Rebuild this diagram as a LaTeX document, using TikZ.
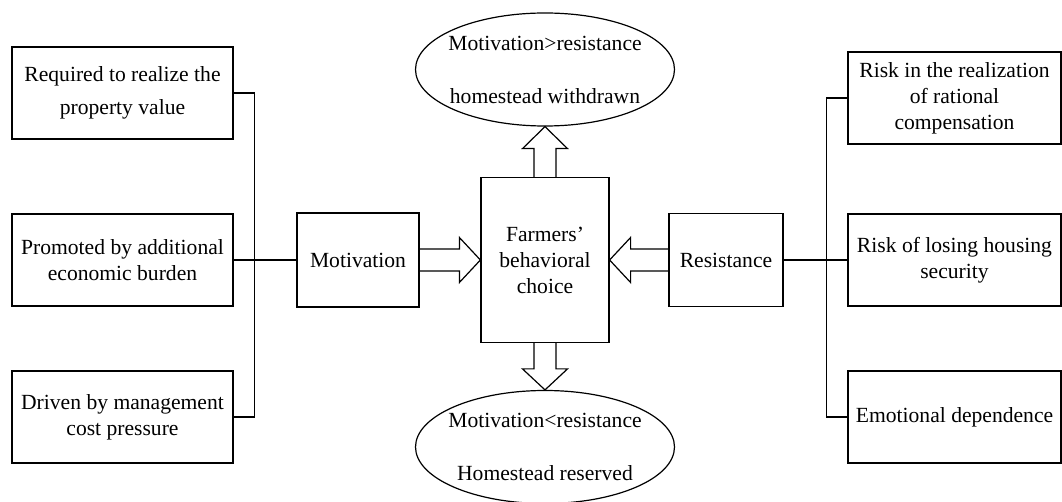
\documentclass[tikz,border=0pt]{standalone}
\usepackage{fontspec}
\setmainfont{Liberation Serif}
\usepackage{tikz}
\usetikzlibrary{calc, shapes.geometric}
\tikzset{
    factor/.style={draw, align=center, minimum width=110.5pt, minimum height=46pt, inner sep=1pt},
    force/.style={draw, align=center, minimum height=47pt, inner sep=1pt},
    outcome/.style={draw, ellipse, minimum width=129.5pt, minimum height=56.5pt, inner sep=0pt},
    outtext/.style={align=center, inner sep=0pt}
}

\begin{document}
\begin{tikzpicture}[x=0.5pt, y=-0.5pt, line width=0.6pt, font=\fontsize{10.8}{13}\selectfont]
        \useasboundingbox (0,0) rectangle (1062,502);

        % motivation side
        \node[factor] (req) at (122.5,93) {Required to realize the\\[3.5pt]property value};
        \node[factor] (prom) at (122.5,260) {Promoted by additional\\economic burden};
        \node[factor] (driv) at (122.5,417) {Driven by management\\cost pressure};
        \node[force, minimum width=61pt] (motiv) at (358,260) {Motivation};

        % resistance side
        \node[factor, minimum width=106.5pt] (rat) at (954.5,98) {Risk in the realization\\of rational\\compensation};
        \node[factor, minimum width=106.5pt] (hous) at (954.5,260) {Risk of losing housing\\security};
        \node[factor, minimum width=106.5pt] (emo) at (954.5,417) {Emotional dependence};
        \node[force, minimum width=57pt, minimum height=46.5pt] (resist) at (726,260) {Resistance};

        % choice and outcomes
        \node[draw, align=center, minimum width=64pt, minimum height=82.5pt] (choice) at (545,260) {Farmers'\\behavioral\\choice};
        \node[outcome] (up) at (545,69.5) {};
        \node[outtext] (uptext) at (up) {Motivation>resistance\\[13.5pt]homestead withdrawn};
        \node[outcome] (down) at (545,447) {};
        \node[outtext] (downtext) at (down) {Motivation<resistance\\[13.5pt]Homestead reserved};

        \draw (req.east) -- ++(21,0) |- (driv.east);
        \draw (prom.east) -- (motiv.west);
        \draw (rat.west) -- ++(-21,0) |- (emo.west);
        \draw (hous.west) -- (resist.east);

        % hollow arrows
        \draw ($(motiv.east)+(0,-11)$) -- ($(choice.west)+(-21,-11)$) -- ($(choice.west)+(-21,-22.5)$) -- (choice.west)
            -- ($(choice.west)+(-21,22.5)$) -- ($(choice.west)+(-21,11)$) -- ($(motiv.east)+(0,11)$);
        \draw ($(resist.west)+(0,-11)$) -- ($(choice.east)+(21,-11)$) -- ($(choice.east)+(21,-22.5)$) -- (choice.east)
            -- ($(choice.east)+(21,22.5)$) -- ($(choice.east)+(21,11)$) -- ($(resist.west)+(0,11)$);
        \draw ($(choice.north)+(-11,0)$) -- ($(up.south)+(-11,22)$) -- ($(up.south)+(-22.5,22)$) -- (up.south)
            -- ($(up.south)+(22.5,22)$) -- ($(up.south)+(11,22)$) -- ($(choice.north)+(11,0)$);
        \draw ($(choice.south)+(-11,0)$) -- ($(down.north)+(-11,-21)$) -- ($(down.north)+(-22.5,-21)$) -- (down.north)
            -- ($(down.north)+(22.5,-21)$) -- ($(down.north)+(11,-21)$) -- ($(choice.south)+(11,0)$);
    \end{tikzpicture}
\end{document}
